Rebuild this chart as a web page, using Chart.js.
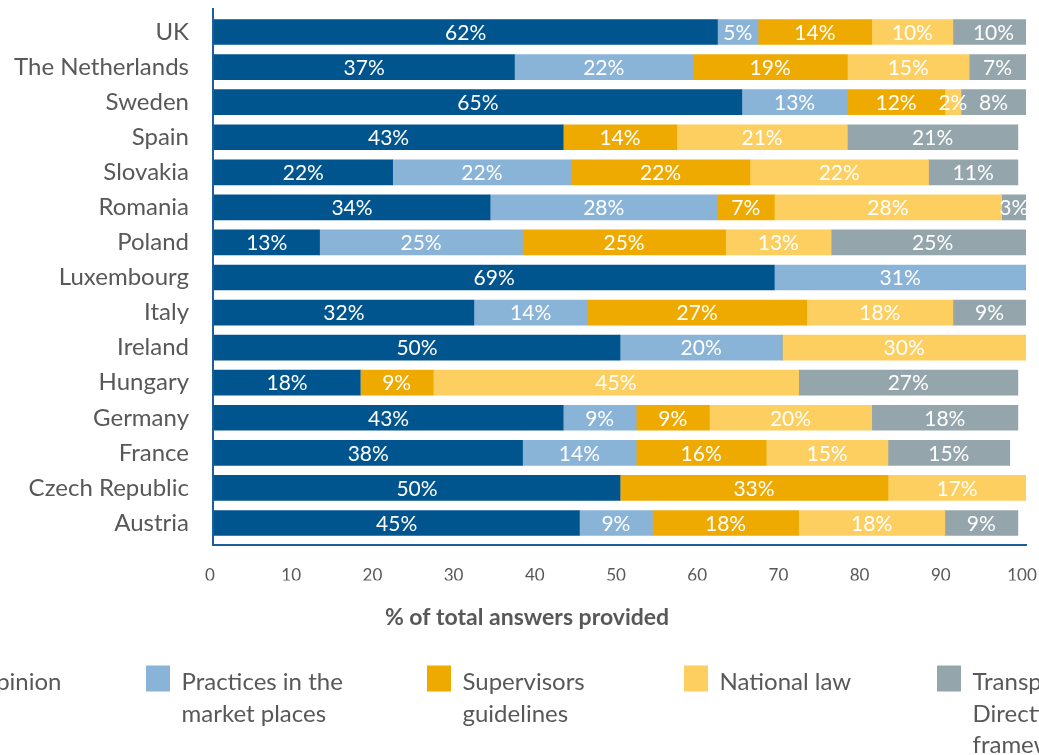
<!DOCTYPE html>
<html>
<head>
<meta charset="utf-8">
<script src="https://cdn.jsdelivr.net/npm/chart.js@4"></script>
<style>
  html, body { margin: 0; padding: 0; background: #fff; }
  #wrap { width: 1039px; height: 755px; }
</style>
</head>
<body>
<div id="wrap"><canvas id="bars" width="1039" height="755"></canvas></div>
<script>
// Countries, top to bottom
const countries = ['UK', 'The Netherlands', 'Sweden', 'Spain', 'Slovakia', 'Romania', 'Poland',
  'Luxembourg', 'Italy', 'Ireland', 'Hungary', 'Germany', 'France', 'Czech Republic', 'Austria'];

// Share of answers per source (%)
const legalOpinion = [62, 37, 65, 43, 22, 34, 13, 69, 32, 50, 18, 43, 38, 50, 45];
const practices    = [5, 22, 13, 0, 22, 28, 25, 31, 14, 20, 0, 9, 14, 0, 9];
const supervisors  = [14, 19, 12, 14, 22, 7, 25, 0, 27, 0, 9, 9, 16, 33, 18];
const nationalLaw  = [10, 15, 2, 21, 22, 28, 13, 0, 18, 30, 45, 20, 15, 17, 18];
const transparency = [10, 7, 8, 21, 11, 3, 25, 0, 9, 0, 27, 18, 15, 0, 9];

const xTicks = [0, 10, 20, 30, 40, 50, 60, 70, 80, 90, 100];

const colors = ['#00558f', '#8ab3d8', '#eeaa00', '#fdcf60', '#94a5ac'];
const textGrey = '#585858';

const series = [
  { label: 'Legal opinion', lines: ['Legal opinion'], data: legalOpinion },
  { label: 'Practices in the market places', lines: ['Practices in the', 'market places'], data: practices },
  { label: 'Supervisors guidelines', lines: ['Supervisors', 'guidelines'], data: supervisors },
  { label: 'National law', lines: ['National law'], data: nationalLaw },
  { label: 'Transparency Directive framework', lines: ['Transparency', 'Directive', 'framework'], data: transparency }
];

// white % labels centred in each segment, clipped to the plot
const segmentLabels = {
  id: 'segmentLabels',
  afterDatasetsDraw(chart) {
    const ctx = chart.ctx;
    const a = chart.chartArea;
    ctx.save();
    ctx.beginPath();
    ctx.rect(a.left, a.top, a.right - a.left, a.bottom - a.top);
    ctx.clip();
    ctx.font = '21px Lato';
    ctx.fillStyle = '#ffffff';
    ctx.textAlign = 'center';
    ctx.textBaseline = 'middle';
    chart.data.datasets.forEach((ds, i) => {
      chart.getDatasetMeta(i).data.forEach((bar, j) => {
        const v = ds.data[j];
        if (!v) return;
        const p = bar.getCenterPoint();
        ctx.fillText(v + '%', p.x, p.y + 1);
      });
    });
    ctx.restore();
  }
};

// axis frame, x title and the legend row underneath
const frameAndLegend = {
  id: 'frameAndLegend',
  afterDraw(chart) {
    const ctx = chart.ctx;
    const a = chart.chartArea;
    ctx.save();
    ctx.strokeStyle = '#1b5e9b';
    ctx.lineWidth = 2;
    ctx.beginPath();
    ctx.moveTo(a.left - 1, a.top - 6.5);
    ctx.lineTo(a.left - 1, a.bottom + 4.5);
    ctx.lineTo(a.right + 1, a.bottom + 4.5);
    ctx.stroke();

    ctx.fillStyle = textGrey;
    ctx.font = 'bold 23px Lato';
    ctx.textAlign = 'center';
    ctx.textBaseline = 'middle';
    ctx.fillText('% of total answers provided', 527, 618);

    ctx.font = '24px Lato';
    ctx.textAlign = 'left';
    ctx.textBaseline = 'alphabetic';
    const boxX = [null, 146, 427, 684, 937];
    series.forEach((s, i) => {
      let bx = boxX[i];
      if (bx === null) {
        // first entry runs off the left edge
        bx = 62 - ctx.measureText(s.lines[0]).width - 36;
      }
      ctx.fillStyle = colors[i];
      ctx.fillRect(bx, 665.5, 24, 26);
      ctx.fillStyle = textGrey;
      s.lines.forEach((line, k) => {
        ctx.fillText(line, bx + 35.5, 690 + k * 31.5);
      });
    });
    ctx.restore();
  }
};

new Chart(document.getElementById('bars'), {
  type: 'bar',
  data: {
    labels: countries,
    datasets: series.map((s, i) => ({
      label: s.label,
      data: s.data,
      backgroundColor: colors[i],
      borderWidth: 0,
      barThickness: 25
    }))
  },
  options: {
    indexAxis: 'y',
    responsive: false,
    animation: false,
    layout: { padding: { left: 0, right: 13, top: 14.5, bottom: 174.5 } },
    plugins: {
      legend: { display: false },
      tooltip: { enabled: false }
    },
    scales: {
      x: {
        stacked: true,
        min: 0,
        max: 100,
        afterBuildTicks(scale) {
          scale.ticks = xTicks.map(v => ({ value: v }));
        },
        afterFit(scale) {
          scale.height = 40;
          scale.paddingLeft = 0;
          scale.paddingRight = 0;
        },
        grid: { display: false, drawTicks: false },
        border: { display: false },
        ticks: { color: textGrey, font: { family: 'Lato', size: 17 }, padding: 25, labelOffset: -4, maxRotation: 0 }
      },
      y: {
        stacked: true,
        afterFit(scale) {
          scale.width = 214;
          scale.paddingTop = 0;
          scale.paddingBottom = 0;
        },
        grid: { display: false, drawTicks: false },
        border: { display: false },
        ticks: { color: textGrey, font: { family: 'Lato', size: 24 }, padding: 25 }
      }
    }
  },
  plugins: [segmentLabels, frameAndLegend]
});
</script>
</body>
</html>
